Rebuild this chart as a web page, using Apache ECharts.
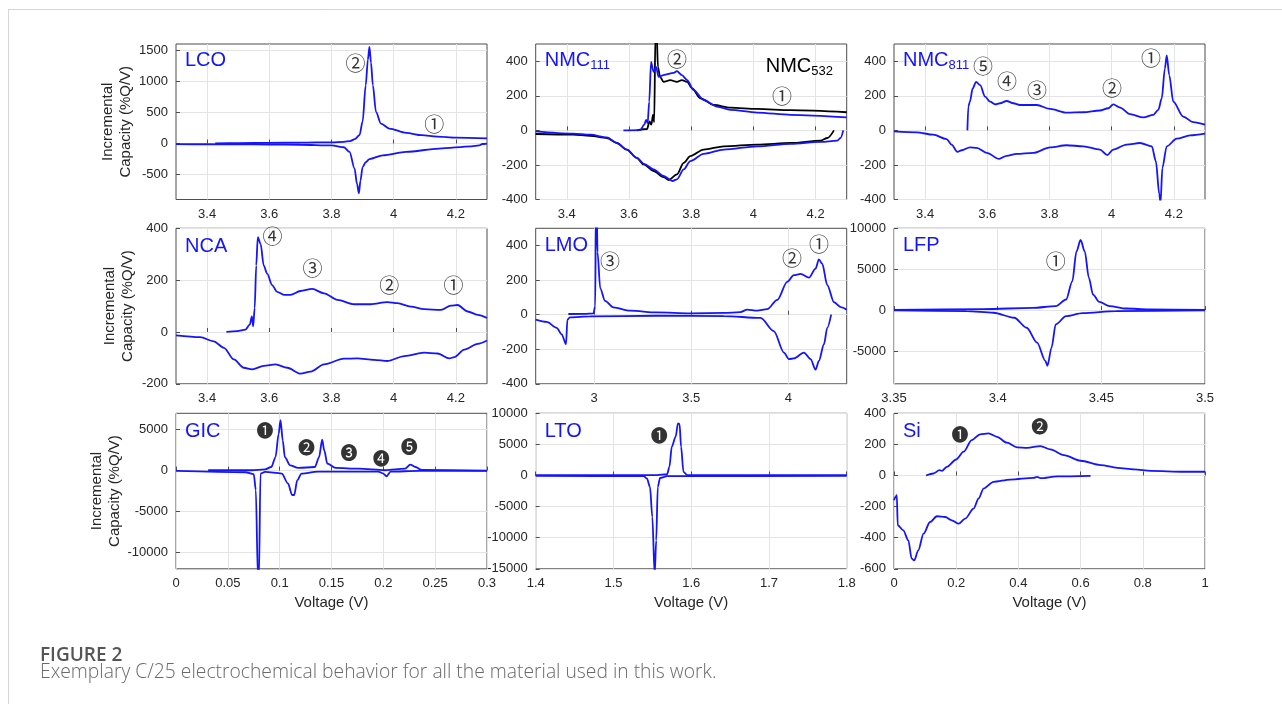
<!DOCTYPE html>
<html>
<head>
<meta charset="utf-8">
<script src="https://cdn.jsdelivr.net/npm/echarts@6/dist/echarts.min.js"></script>
<style>
  html, body { margin: 0; padding: 0; background: #fff; }
  #chart { width: 1282px; height: 704px; }
</style>
</head>
<body>
<div id="chart"></div>
<script>
// ---- Incremental capacity curves, [voltage (V), dQ/dV (%Q/V)] ----
const lcoCharge = [[3.426,3],[3.5,6],[3.6,10],[3.7,14],[3.8,20],[3.84,28],[3.86,40],[3.875,70],[3.89,134],[3.9,350],[3.91,937],[3.917,1350],[3.922,1553],[3.927,1300],[3.933,937],[3.943,509],[3.959,321],[3.986,241],[4.04,171],[4.09,134],[4.14,112],[4.2,96],[4.3,82]];
const lcoDischarge = [[3.3,-10],[3.4,-12],[3.5,-14],[3.6,-16],[3.7,-20],[3.8,-30],[3.84,-60],[3.858,-134],[3.874,-400],[3.882,-650],[3.888,-800],[3.893,-600],[3.9,-380],[3.91,-300],[3.922,-250],[3.965,-190],[4.04,-134],[4.146,-82],[4.25,-45],[4.275,-30],[4.285,-8],[4.3,0]];

const nmc111Charge = [[3.582,0],[3.636,2],[3.649,33],[3.655,61],[3.66,42],[3.665,166],[3.671,396],[3.679,339],[3.687,367],[3.695,310],[3.711,320],[3.744,333],[3.754,343],[3.77,320],[3.787,291],[3.808,233],[3.84,176],[3.883,138],[3.926,119],[4.012,103],[4.12,90],[4.3,75]];
const nmc111Discharge = [[3.3,-6],[3.42,-19],[3.475,-25],[3.529,-40],[3.561,-73],[3.593,-111],[3.625,-159],[3.65,-195],[3.679,-226],[3.711,-264],[3.74,-293],[3.754,-283],[3.776,-226],[3.797,-178],[3.84,-136],[3.905,-111],[4.012,-92],[4.12,-78],[4.216,-67],[4.27,-59],[4.28,-44],[4.289,0]];
const nmc532Charge = [[3.625,0],[3.658,8],[3.666,52],[3.672,33],[3.677,90],[3.681,48],[3.685,560],[3.689,560],[3.693,367],[3.7,310],[3.711,281],[3.733,291],[3.754,281],[3.77,291],[3.787,281],[3.803,243],[3.829,186],[3.873,147],[3.926,132],[4.012,124],[4.12,117],[4.3,105]];
const nmc532Discharge = [[3.3,-21],[3.42,-25],[3.475,-31],[3.529,-44],[3.561,-73],[3.593,-111],[3.625,-159],[3.647,-197],[3.679,-235],[3.711,-270],[3.728,-287],[3.754,-255],[3.776,-188],[3.797,-149],[3.84,-111],[3.905,-92],[4.012,-82],[4.12,-73],[4.216,-59],[4.238,-44],[4.259,0]];

const nmc811Charge = [[3.536,0],[3.539,138],[3.544,166],[3.553,243],[3.564,281],[3.577,262],[3.593,195],[3.609,166],[3.625,151],[3.641,157],[3.662,170],[3.684,157],[3.705,147],[3.759,147],[3.802,124],[3.855,103],[3.909,105],[3.962,115],[3.989,128],[4.005,151],[4.027,132],[4.059,94],[4.102,75],[4.134,90],[4.15,119],[4.161,186],[4.171,358],[4.177,434],[4.185,320],[4.198,166],[4.23,80],[4.262,48],[4.3,33]];
const nmc811Discharge = [[3.3,-6],[3.373,-11],[3.426,-25],[3.469,-50],[3.485,-82],[3.504,-124],[3.518,-115],[3.544,-98],[3.566,-101],[3.598,-130],[3.638,-165],[3.662,-147],[3.694,-136],[3.748,-130],[3.802,-98],[3.855,-86],[3.909,-92],[3.962,-111],[3.986,-143],[4.005,-111],[4.048,-82],[4.091,-73],[4.129,-92],[4.142,-178],[4.153,-369],[4.157,-420],[4.163,-216],[4.177,-92],[4.209,-48],[4.252,-29],[4.3,-19]];

const ncaCharge = [[3.462,0],[3.497,3],[3.523,9],[3.537,28],[3.544,60],[3.548,22],[3.553,92],[3.558,257],[3.563,366],[3.572,340],[3.582,257],[3.593,225],[3.609,181],[3.625,155],[3.647,143],[3.668,143],[3.7,158],[3.738,166],[3.776,149],[3.819,124],[3.873,107],[3.926,107],[3.98,115],[4.012,111],[4.055,98],[4.098,88],[4.152,85],[4.184,102],[4.205,104],[4.238,79],[4.27,66],[4.3,54]];
const ncaDischarge = [[3.3,-13],[3.378,-20],[3.421,-36],[3.454,-61],[3.486,-106],[3.518,-138],[3.545,-144],[3.582,-131],[3.62,-125],[3.658,-138],[3.7,-161],[3.733,-153],[3.776,-125],[3.84,-103],[3.883,-102],[3.937,-108],[3.98,-112],[4.034,-93],[4.098,-80],[4.141,-83],[4.179,-102],[4.195,-97],[4.227,-68],[4.27,-46],[4.3,-33]];

const lmoCharge = [[2.868,4],[2.95,5],[2.997,8],[3.006,48],[3.01,600],[3.014,600],[3.018,362],[3.032,152],[3.057,80],[3.1,42],[3.186,23],[3.324,13],[3.496,8],[3.668,10],[3.753,15],[3.788,29],[3.839,23],[3.891,32],[3.943,86],[3.994,190],[4.028,229],[4.063,236],[4.106,215],[4.14,267],[4.157,320],[4.174,295],[4.2,171],[4.235,72],[4.269,44],[4.3,29]];
const lmoDischarge = [[2.7,-29],[2.757,-42],[2.808,-76],[2.834,-114],[2.856,-171],[2.863,-29],[2.876,-15],[2.98,-10],[3.324,-6],[3.668,-8],[3.857,-19],[3.925,-95],[3.977,-219],[4.003,-257],[4.028,-253],[4.08,-219],[4.114,-257],[4.14,-318],[4.157,-267],[4.183,-171],[4.2,-76],[4.22,0]];

const lfpCharge = [[3.35,40],[3.393,120],[3.417,280],[3.428,490],[3.433,1300],[3.436,3520],[3.438,7170],[3.44,8580],[3.442,7170],[3.444,3930],[3.446,1900],[3.449,1010],[3.454,490],[3.462,200],[3.473,80],[3.5,40]];
const lfpDischarge = [[3.35,-40],[3.385,-120],[3.398,-320],[3.408,-930],[3.414,-2150],[3.419,-3970],[3.423,-6190],[3.424,-6800],[3.426,-4570],[3.428,-1740],[3.433,-730],[3.441,-360],[3.457,-120],[3.5,-40]];

const gicCharge = [[0.031,40],[0.073,40],[0.086,160],[0.092,440],[0.096,1650],[0.099,4480],[0.1008,6170],[0.103,3670],[0.105,1650],[0.11,645],[0.118,320],[0.134,440],[0.138,1650],[0.141,3790],[0.143,2460],[0.146,850],[0.154,320],[0.176,240],[0.202,40],[0.221,240],[0.226,730],[0.231,440],[0.237,80],[0.3,0]];
const gicDischarge = [[0,-40],[0.067,-200],[0.075,-440],[0.077,-2380],[0.079,-13000],[0.08,-13000],[0.0815,-360],[0.086,-160],[0.102,-360],[0.108,-1570],[0.112,-2980],[0.114,-2980],[0.117,-1170],[0.121,-360],[0.137,-120],[0.195,-120],[0.2,-360],[0.203,-690],[0.207,-120],[0.234,-40],[0.3,-40]];

const ltoCharge = [[1.4,50],[1.556,50],[1.569,200],[1.572,1400],[1.575,4620],[1.58,6240],[1.583,8390],[1.585,8280],[1.587,4620],[1.59,590],[1.595,50],[1.8,50]];
const ltoDischarge = [[1.4,-50],[1.539,-110],[1.543,-480],[1.547,-1830],[1.55,-6670],[1.553,-16000],[1.555,-10430],[1.557,-1830],[1.56,-380],[1.569,-110],[1.8,-50]];

const siCharge = [[0.103,0],[0.127,13],[0.146,34],[0.154,30],[0.17,56],[0.2,103],[0.224,153],[0.25,228],[0.277,265],[0.304,271],[0.331,249],[0.363,211],[0.396,181],[0.428,178],[0.471,189],[0.503,168],[0.546,131],[0.6,95],[0.665,67],[0.718,49],[0.772,39],[0.826,30],[0.933,24],[1,24]];
const siDischarge = [[0,-159],[0.005,-138],[0.009,-127],[0.012,-320],[0.03,-353],[0.046,-417],[0.057,-535],[0.065,-546],[0.078,-482],[0.095,-374],[0.116,-299],[0.138,-262],[0.165,-267],[0.186,-288],[0.208,-310],[0.229,-277],[0.256,-213],[0.272,-148],[0.288,-84],[0.32,-41],[0.374,-26],[0.449,-15],[0.46,-9],[0.471,-17],[0.525,-6],[0.632,-2]];

// ---- peak markers, [voltage, dQ/dV, label] ----
const lcoPeaks = [[3.877,1291,'②'],[4.13,310,'①']];
const nmcPeaks = [[3.754,412,'②'],[4.092,199,'①']];
const nmc811Peaks = [[4.126,418,'①'],[4.001,245,'②'],[3.76,233,'③'],[3.663,285,'④'],[3.586,371,'⑤']];
const ncaPeaks = [[3.61,370,'④'],[3.739,247,'③'],[3.986,178,'②'],[4.192,178,'①']];
const lmoPeaks = [[3.082,309,'③'],[4.018,326,'②'],[4.157,406,'①']];
const lfpPeaks = [[3.428,5910,'①']];
const gicPeaks = [[0.0859,4870,'❶'],[0.126,2810,'❷'],[0.167,2210,'❸'],[0.198,1490,'❹'],[0.225,2930,'❺']];
const ltoPeaks = [[1.559,6500,'❶']];
const siPeaks = [[0.212,266,'❶'],[0.469,312,'❷']];

// ---- axis ranges and tick labels ----
const cathodeRange = [3.3, 4.3];
const cathodeTicks = [3.4, 3.6, 3.8, 4, 4.2];
const lcoYRange = [-900, 1600];
const lcoYTicks = [-500, 0, 500, 1000, 1500];
const nmcYRange = [-400, 500];
const nmcYTicks = [-400, -200, 0, 200, 400];
const ncaYRange = [-200, 400];
const ncaYTicks = [-200, 0, 200, 400];
const lmoXRange = [2.7, 4.3];
const lmoXTicks = [3, 3.5, 4];
const lfpXRange = [3.35, 3.5];
const lfpXTicks = [3.35, 3.4, 3.45, 3.5];
const lfpYRange = [-9000, 10000];
const lfpYTicks = [-5000, 0, 5000, 10000];
const gicXRange = [0, 0.3];
const gicXTicks = [0, 0.05, 0.1, 0.15, 0.2, 0.25, 0.3];
const gicYRange = [-12000, 7000];
const gicYTicks = [-10000, -5000, 0, 5000];
const ltoXRange = [1.4, 1.8];
const ltoXTicks = [1.4, 1.5, 1.6, 1.7, 1.8];
const ltoYRange = [-15000, 10000];
const ltoYTicks = [-15000, -10000, -5000, 0, 5000, 10000];
const siXRange = [0, 1];
const siXTicks = [0, 0.2, 0.4, 0.6, 0.8, 1];
const siYRange = [-600, 400];
const siYTicks = [-600, -400, -200, 0, 200, 400];

const BLUE = '#1414ff';
const BLACK = '#000000';
const FONT = '"Liberation Sans", Arial, Helvetica, sans-serif';
const MARK_FONT = '"Noto Sans CJK JP", "DejaVu Sans", sans-serif';
const CAPTION_FONT = '"Open Sans", "Noto Sans", sans-serif';

// panel layout: columns / rows in pixels
const colLeft = [176, 535.7, 894];
const rowTop = [44, 228.3, 413.3];
const PW = 311, PH = 155.5;

const panels = [
  { xr: cathodeRange, xt: cathodeTicks, yr: lcoYRange, yt: lcoYTicks,
    curves: [[lcoCharge, BLUE], [lcoDischarge, BLUE]], peaks: lcoPeaks,
    title: [{ text: '{m|LCO}', color: BLUE, dx: 9, dy: 6 }] },
  { xr: cathodeRange, xt: cathodeTicks, yr: nmcYRange, yt: nmcYTicks,
    curves: [[nmc532Charge, BLACK], [nmc532Discharge, BLACK], [nmc111Discharge, BLUE], [nmc111Charge, BLUE]], peaks: nmcPeaks,
    title: [{ text: '{m|NMC}{s|111}', color: BLUE, dx: 9, dy: 6 }, { text: '{m|NMC}{s|532}', color: BLACK, dx: 230, dy: 12 }] },
  { xr: cathodeRange, xt: cathodeTicks, yr: nmcYRange, yt: nmcYTicks,
    curves: [[nmc811Charge, BLUE], [nmc811Discharge, BLUE]], peaks: nmc811Peaks,
    title: [{ text: '{m|NMC}{s|811}', color: BLUE, dx: 9, dy: 6 }] },
  { xr: cathodeRange, xt: cathodeTicks, yr: ncaYRange, yt: ncaYTicks,
    curves: [[ncaCharge, BLUE], [ncaDischarge, BLUE]], peaks: ncaPeaks,
    title: [{ text: '{m|NCA}', color: BLUE, dx: 9, dy: 8 }] },
  { xr: lmoXRange, xt: lmoXTicks, yr: nmcYRange, yt: nmcYTicks,
    curves: [[lmoCharge, BLUE], [lmoDischarge, BLUE]], peaks: lmoPeaks,
    title: [{ text: '{m|LMO}', color: BLUE, dx: 9, dy: 7 }] },
  { xr: lfpXRange, xt: lfpXTicks, yr: lfpYRange, yt: lfpYTicks,
    curves: [[lfpCharge, BLUE], [lfpDischarge, BLUE]], peaks: lfpPeaks,
    title: [{ text: '{m|LFP}', color: BLUE, dx: 9, dy: 7 }] },
  { xr: gicXRange, xt: gicXTicks, yr: gicYRange, yt: gicYTicks,
    curves: [[gicCharge, BLUE], [gicDischarge, BLUE]], peaks: gicPeaks,
    title: [{ text: '{m|GIC}', color: BLUE, dx: 9, dy: 8 }] },
  { xr: ltoXRange, xt: ltoXTicks, yr: ltoYRange, yt: ltoYTicks,
    curves: [[ltoCharge, BLUE], [ltoDischarge, BLUE]], peaks: ltoPeaks,
    title: [{ text: '{m|LTO}', color: BLUE, dx: 9, dy: 8 }] },
  { xr: siXRange, xt: siXTicks, yr: siYRange, yt: siYTicks,
    curves: [[siCharge, BLUE], [siDischarge, BLUE]], peaks: siPeaks,
    title: [{ text: '{m|Si}', color: BLUE, dx: 9, dy: 8 }] }
];

const fmt = v => String(+(+v).toFixed(6));
// outlined circled digits need a larger size than the filled ones to look alike
const isFilled = s => s.charCodeAt(0) >= 0x2776;

const grids = [], xAxes = [], yAxes = [], series = [], graphics = [];

panels.forEach((p, i) => {
  const col = i % 3, row = Math.floor(i / 3);
  const left = colLeft[col], top = rowTop[row];
  grids.push({ left, top, width: PW, height: PH, show: true,
    borderColor: '#4d4d4d', borderWidth: 1, backgroundColor: '#fff' });

  const tick = { show: true, inside: true, length: 4, lineStyle: { color: '#4d4d4d' } };
  const label = { fontSize: 13, color: '#262626', margin: 8, fontFamily: FONT, formatter: fmt };
  const split = { show: true, lineStyle: { color: '#e4e4e4', width: 1 } };

  xAxes.push({
    gridIndex: i, type: 'value', min: p.xr[0], max: p.xr[1],
    axisLine: { show: false },
    axisTick: Object.assign({ customValues: p.xt }, tick),
    axisLabel: Object.assign({ customValues: p.xt }, label),
    splitLine: split,
    name: row === 2 ? 'Voltage (V)' : '', nameLocation: 'middle', nameGap: 27,
    nameTextStyle: { fontSize: 15, color: '#262626', fontFamily: FONT }
  });
  yAxes.push({
    gridIndex: i, type: 'value', min: p.yr[0], max: p.yr[1],
    axisLine: { show: false },
    axisTick: Object.assign({ customValues: p.yt }, tick),
    axisLabel: Object.assign({ customValues: p.yt }, label),
    splitLine: split,
    name: col === 0 ? 'Incremental\nCapacity (%Q/V)' : '', nameLocation: 'middle',
    nameGap: 39, nameRotate: 90,
    nameTextStyle: { fontSize: 15, color: '#262626', fontFamily: FONT, lineHeight: 18 }
  });

  p.curves.forEach(([data, color]) => {
    series.push({
      type: 'line', xAxisIndex: i, yAxisIndex: i, data,
      symbol: 'none', showSymbol: false, clip: true, silent: true,
      smooth: 0.3, smoothMonotone: 'x',
      lineStyle: { color, width: 1.8 }, z: 3
    });
  });

  // circled peak numbers, placed at data coordinates
  series.push({
    type: 'scatter', xAxisIndex: i, yAxisIndex: i,
    data: p.peaks.map(pk => ({ value: pk, label: { fontSize: isFilled(pk[2]) ? 17 : 20 } })),
    symbolSize: 0.1, itemStyle: { color: 'rgba(0,0,0,0)' }, silent: true, z: 5,
    label: {
      show: true, position: 'inside', color: '#000', fontFamily: MARK_FONT,
      formatter: d => d.value[2]
    }
  });

  p.title.forEach(t => {
    graphics.push({
      type: 'text', left: left + t.dx, top: top + t.dy, z: 10,
      style: {
        text: t.text, fill: t.color,
        rich: {
          m: { fontSize: 20, fontFamily: FONT, fill: t.color, lineHeight: 22, verticalAlign: 'top' },
          s: { fontSize: 13, fontFamily: FONT, fill: t.color, lineHeight: 12, verticalAlign: 'bottom' }
        }
      }
    });
  });
});

// page frame and caption
graphics.push(
  { type: 'line', shape: { x1: 8, y1: 9.5, x2: 1282, y2: 9.5 }, style: { stroke: '#d6d6d6', lineWidth: 1 } },
  { type: 'line', shape: { x1: 8.5, y1: 9.5, x2: 8.5, y2: 704 }, style: { stroke: '#d6d6d6', lineWidth: 1 } },
  { type: 'text', left: 40, top: 646, style: { text: 'FIGURE 2', fill: '#555', fontSize: 19,
      fontWeight: 600, fontFamily: CAPTION_FONT } },
  { type: 'text', left: 40, top: 663, style: {
      text: 'Exemplary C/25 electrochemical behavior for all the material used in this work.',
      fill: '#6a6a6a', fontSize: 19.3, fontWeight: 300, fontFamily: CAPTION_FONT } }
);

const chart = echarts.init(document.getElementById('chart'), null, { renderer: 'canvas' });
chart.setOption({
  animation: false,
  backgroundColor: '#fff',
  textStyle: { fontFamily: FONT },
  grid: grids, xAxis: xAxes, yAxis: yAxes, series, graphic: graphics
});
</script>
</body>
</html>
